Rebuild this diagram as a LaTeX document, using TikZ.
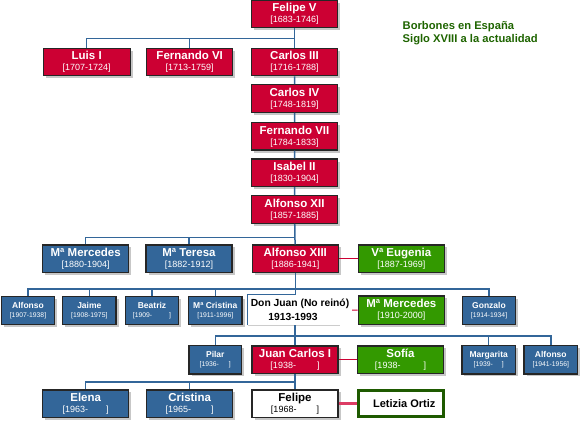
\documentclass[tikz,border=0pt]{standalone}
\usepackage{fontspec}
\setmainfont{Liberation Sans}
\usetikzlibrary{positioning,shadows}
\definecolor{royalred}{RGB}{204,0,51}
\definecolor{infantblue}{RGB}{51,102,153}
\definecolor{consortgreen}{RGB}{51,153,0}
\definecolor{titlegreen}{RGB}{30,100,0}
\definecolor{ringgreen}{RGB}{30,90,0}
\definecolor{bridepink}{RGB}{220,60,100}
\newcommand\yrs[1]{{\normalfont\fontsize{9}{11}\selectfont #1}}
\newcommand\syrs[1]{{\normalfont\fontsize{6.8}{9.5}\selectfont #1}}

\begin{document}
\begin{tikzpicture}[x=1pt,y=-1pt]
\tikzset{person/.style={draw=black!85,line width=1.2pt,text=white,align=center,inner sep=0pt,
minimum width=86pt,minimum height=27.5pt,
drop shadow={shadow xshift=2.5pt,shadow yshift=-2.5pt,fill=black!22,opacity=1},
font=\bfseries\fontsize{11.5}{11}\selectfont}}
\tikzset{king/.style={person,fill=royalred}}
\tikzset{infant/.style={person,fill=infantblue}}
\tikzset{consort/.style={person,fill=consortgreen}}
\tikzset{commoner/.style={person,fill=white,text=black}}
\tikzset{minor/.style={minimum width=53.5pt,minimum height=28.5pt,font=\bfseries\fontsize{8.5}{9.5}\selectfont}}
\tikzset{bus/.style={draw=infantblue,line width=1.5pt}}
\tikzset{wed/.style={draw=royalred,line width=1.2pt}}
\tikzset{heading/.style={text=titlegreen,align=left,inner sep=0pt,font=\bfseries\fontsize{11.2}{13.3}\selectfont}}
\useasboundingbox (0,0) rectangle (580,420);

\node[heading,anchor=west] (title) at (402.5,33) {Borbones en España\\Siglo XVIII a la actualidad};

\node[king] (felipeV) at (294.5,14) {Felipe V\\\yrs{[1683-1746]}};
\node[king,minimum width=87pt] (luisI) at (86.7,62) {Luis I\\\yrs{[1707-1724]}};
\node[king] (fernandoVI) at (189.7,62) {Fernando VI\\\yrs{[1713-1759]}};
\node[king] (carlosIII) at (294.5,62) {Carlos III\\\yrs{[1716-1788]}};
\node[king] (carlosIV) at (294.5,98.5) {Carlos IV\\\yrs{[1748-1819]}};
\node[king] (fernandoVII) at (294.5,136.3) {Fernando VII\\\yrs{[1784-1833]}};
\node[king] (isabelII) at (294.5,172.8) {Isabel II\\\yrs{[1830-1904]}};
\node[king] (alfonsoXII) at (294.5,209.5) {Alfonso XII\\\yrs{[1857-1885]}};

\node[infant] (mercedes) at (85.7,258.7) {Mª Mercedes\\\yrs{[1880-1904]}};
\node[infant] (teresa) at (189,258.7) {Mª Teresa\\\yrs{[1882-1912]}};
\node[king] (alfonsoXIII) at (295.3,258.7) {Alfonso XIII\\\yrs{[1886-1941]}};
\node[consort] (eugenia) at (401.3,258.7) {Vª Eugenia\\\yrs{[1887-1969]}};

\node[infant,minor] (alfonso) at (28,310.5) {Alfonso\\\syrs{[1907-1938]}};
\node[infant,minor] (jaime) at (89.3,310.5) {Jaime\\\syrs{[1908-1975]}};
\node[infant,minor] (beatriz) at (152,310.5) {Beatriz\\\syrs{[1909-\hspace{17pt}]}};
\node[infant,minor] (cristinaM) at (215.3,310.5) {Mª Cristina\\\syrs{[1911-1996]}};
\node[inner sep=0pt,minimum width=104pt,minimum height=30pt,align=center,
font=\bfseries\fontsize{10.3}{14}\selectfont] (donjuan) at (300,310) {Don Juan (No reinó)\\1913-1993\hspace*{14pt}};
\node[consort,minimum height=28.5pt] (mercedesM) at (401.3,310.2) {Mª Mercedes\\\yrs{[1910-2000]}};
\node[infant,minor] (gonzalo) at (489,310.5) {Gonzalo\\\syrs{[1914-1934]}};

\node[infant,minor,minimum width=52.5pt] (pilar) at (215.3,359.7) {Pilar\\\syrs{[1936-\hspace{10pt}]}};
\node[king] (juancarlos) at (295,359.7) {Juan Carlos I\\\yrs{[1938-\hspace{21pt}]}};
\node[consort] (sofia) at (400.5,359.7) {Sofía\\\yrs{[1938-\hspace{23pt}]}};
\node[infant,minor] (margarita) at (488.7,359.7) {Margarita\\\syrs{[1939-\hspace{9pt}]}};
\node[infant,minor] (alfonsoB) at (550.8,359.7) {Alfonso\\\syrs{[1941-1956]}};

\node[infant] (elena) at (85.7,403.7) {Elena\\\yrs{[1963-\hspace{18pt}]}};
\node[infant] (cristina) at (189.7,403.7) {Cristina\\\yrs{[1965-\hspace{20pt}]}};
\node[commoner] (felipe) at (295,403.7) {Felipe\\\yrs{[1968-\hspace{20pt}]}};
\node[draw=ringgreen,line width=3pt,inner sep=0pt,minimum width=85pt,minimum height=26.5pt,
font=\bfseries\fontsize{11}{11}\selectfont] (letizia) at (401.2,403.7) {\raisebox{-3.5pt}{\hspace*{6pt}Letizia Ortiz}};

\draw[bus] (felipeV) -- (carlosIII);
\draw[bus] (felipeV.south) -- +(0,10) -| (luisI.north);
\draw[bus] (felipeV.south) -- +(0,10) -| (fernandoVI.north);
\draw[bus] (carlosIII) -- (carlosIV) -- (fernandoVII) -- (isabelII) -- (alfonsoXII) -- (alfonsoXIII);
\draw[bus] (alfonsoXII.south) -- +(0,13.5) -| (mercedes.north);
\draw[bus] (alfonsoXII.south) -- +(0,13.5) -| (teresa.north);
\draw[bus] (alfonsoXIII.south) -- (alfonsoXIII.south |- donjuan.north);
\draw[bus] (alfonsoXIII.south) -- +(0,16) -| (alfonso.north);
\draw[bus] (alfonsoXIII.south) -- +(0,16) -| (jaime.north);
\draw[bus] (alfonsoXIII.south) -- +(0,16) -| (beatriz.north);
\draw[bus] (alfonsoXIII.south) -- +(0,16) -| (cristinaM.north);
\draw[bus] (alfonsoXIII.south) -- +(0,16) -| (gonzalo.north);
\draw[infantblue,line width=0.8pt] (donjuan.south west) -- (donjuan.north west) -- (alfonsoXIII.south |- donjuan.north);
\draw[black!20,line width=1pt] (donjuan.south west) -- +(92,0);
\draw[bus] (juancarlos |- donjuan.south) -- (juancarlos);
\draw[bus] (juancarlos.north) -- +(0,-9.3) -| (pilar.north);
\draw[bus] (juancarlos.north) -- +(0,-9.3) -| (margarita.north);
\draw[bus] (juancarlos.north) -- +(0,-9.3) -| (alfonsoB.north);
\draw[bus] (juancarlos) -- (felipe);
\draw[bus] (juancarlos.south) -- +(0,7.7) -| (elena.north);
\draw[bus] (juancarlos.south) -- +(0,7.7) -| (cristina.north);

\draw[wed] (alfonsoXIII) -- (eugenia);
\draw[wed] (donjuan) -- (mercedesM);
\draw[wed] (juancarlos) -- (sofia);
\draw[draw=bridepink,line width=3pt] (felipe) -- (letizia);
\end{tikzpicture}
\end{document}
